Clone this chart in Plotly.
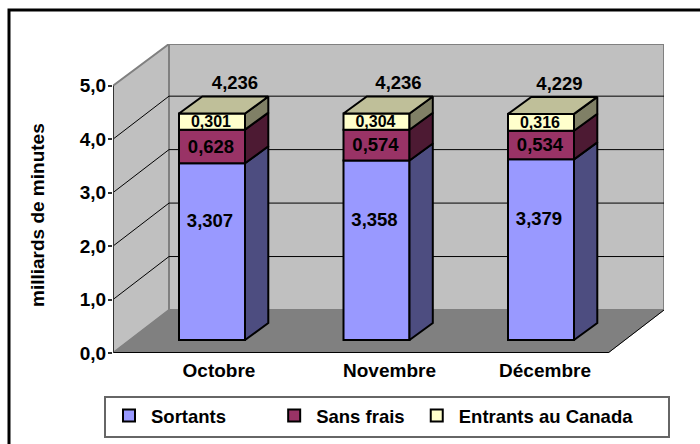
import plotly.graph_objects as go

months = ["Octobre", "Novembre", "Décembre"]
sortants = [3.307, 3.358, 3.379]
sans_frais = [0.628, 0.574, 0.534]
entrants = [0.301, 0.304, 0.316]
totals = [4.236, 4.236, 4.229]
y_ticks = [0, 1, 2, 3, 4, 5]

# --- layout constants (pixels of the 700x444 page) ---
W, H = 700, 444
L, R, T, B = 113, 664, 44, 353
X0_PX, X_UNIT = 212.0, 164.5
Y_TOP = 5.78
Y_UNIT = (B - T) / Y_TOP
xr = [(L - X0_PX) / X_UNIT, (R - X0_PX) / X_UNIT]
WALL_DX, WALL_DY = 56 / X_UNIT, 43 / Y_UNIT
BAR_BASE = 13 / Y_UNIT
BAR_W = 66 / X_UNIT
SIDE_DX, SIDE_DY = 23.3 / X_UNIT, 17 / Y_UNIT
TICK_POS = [(219 - X0_PX) / X_UNIT, (389.5 - X0_PX) / X_UNIT, (545 - X0_PX) / X_UNIT]
TOTAL_OFF = [23 / X_UNIT, 22 / X_UNIT, 18.5 / X_UNIT]

FONT = "Liberation Sans"
NB = "\u00a0"
series = [
    ("Sortants" + NB * 8, sortants, "#9999FF", "#4D4D80"),
    ("Sans frais" + NB, sans_frais, "#993366", "#4D1A33"),
    ("Entrants au Canada", entrants, "#FFFFCC", "#808066"),
]
LABEL_DX = [-2 / X_UNIT, -1 / X_UNIT, -1 / X_UNIT]
LABEL_DY = [29 / Y_UNIT, -1.5 / Y_UNIT, -1.5 / Y_UNIT]
TOP_FACE = "#BFBF99"

def fx(px):
    return (px - L) / (R - L)
def fy(py):
    return (B - py) / (B - T)

fig = go.Figure()
x_pos = list(range(len(months)))
bases = [BAR_BASE] * len(months)
for name, vals, col, side in series:
    fig.add_bar(x=x_pos, y=vals, base=list(bases), width=BAR_W, name=name,
                marker=dict(color=col, line=dict(color="black", width=2)))
    sx, sy = [], []
    for i, v in enumerate(vals):
        xr_edge = x_pos[i] + BAR_W / 2
        b, t = bases[i], bases[i] + v
        sx += [xr_edge, xr_edge + SIDE_DX, xr_edge + SIDE_DX, xr_edge, xr_edge, None]
        sy += [b, b + SIDE_DY, t + SIDE_DY, t, b, None]
    fig.add_scatter(x=sx, y=sy, mode="lines", fill="toself", fillcolor=side,
                    line=dict(color="black", width=2), showlegend=False, hoverinfo="skip")
    bases = [b + v for b, v in zip(bases, vals)]

# top faces
tx, ty = [], []
for i, top in enumerate(bases):
    xl, xe = x_pos[i] - BAR_W / 2, x_pos[i] + BAR_W / 2
    tx += [xl, xe, xe + SIDE_DX, xl + SIDE_DX, xl, None]
    ty += [top, top, top + SIDE_DY, top + SIDE_DY, top, None]
fig.add_scatter(x=tx, y=ty, mode="lines", fill="toself", fillcolor=TOP_FACE,
                line=dict(color="black", width=2), showlegend=False, hoverinfo="skip")

# data labels
def fmt(v):
    return f"{v:.3f}".replace(".", ",")

lab_font = dict(family=FONT, size=18.5, color="black")
small_font = dict(family=FONT, size=16, color="black")
b = [BAR_BASE] * len(months)
for (name, vals, col, side), f, dx, dy in zip(series, [lab_font, lab_font, small_font], LABEL_DX, LABEL_DY):
    fig.add_scatter(x=[p + dx for p in x_pos], y=[bi + v / 2 + dy for bi, v in zip(b, vals)], mode="text",
                    text=[f"<b>{fmt(v)}</b>" for v in vals], textfont=f,
                    showlegend=False, hoverinfo="skip")
    b = [bi + v for bi, v in zip(b, vals)]
fig.add_scatter(x=[p + o for p, o in zip(x_pos, TOTAL_OFF)],
                y=[bi + 29 / Y_UNIT for bi in b], mode="text",
                text=[f"<b>{fmt(v)}</b>" for v in totals], textfont=lab_font,
                showlegend=False, hoverinfo="skip")

# walls and floor
GREY = "#808080"
WALL = "#C0C0C0"
left_f, left_b = xr[0], xr[0] + WALL_DX
right_b = xr[1]
right_f = xr[1] - WALL_DX
shapes = [
    dict(type="rect", x0=left_b, x1=right_b, y0=WALL_DY, y1=Y_TOP, xref="x", yref="y",
         fillcolor=WALL, line=dict(color=GREY, width=2), layer="below"),
    dict(type="path", path=f"M{left_f},0 L{left_f},5 L{left_b},{Y_TOP} L{left_b},{WALL_DY} Z",
         xref="x", yref="y", fillcolor=WALL, line=dict(color=GREY, width=2), layer="below"),
    dict(type="path", path=f"M{left_f},0 L{left_b},{WALL_DY} L{right_b},{WALL_DY} L{right_f},0 Z",
         xref="x", yref="y", fillcolor=GREY, line=dict(color=GREY, width=1), layer="below"),
]
for k in y_ticks[1:-1]:
    shapes.append(dict(type="line", x0=left_b, x1=right_b, y0=k + WALL_DY, y1=k + WALL_DY,
                       xref="x", yref="y", line=dict(color="black", width=1), layer="below"))
    shapes.append(dict(type="line", x0=left_f, x1=left_b, y0=k, y1=k + WALL_DY,
                       xref="x", yref="y", line=dict(color="black", width=1), layer="below"))
shapes += [
    dict(type="line", x0=right_f, x1=right_b, y0=0, y1=WALL_DY, xref="x", yref="y",
         line=dict(color="black", width=1), layer="below"),
    dict(type="line", x0=left_f, x1=right_f, y0=0, y1=0, xref="x", yref="y",
         line=dict(color="black", width=2), layer="below"),
    dict(type="line", x0=left_f, x1=left_f, y0=0, y1=5, xref="x", yref="y",
         line=dict(color="#333333", width=2), layer="below"),
]
# chart frame (runs off the right and bottom of the page)
shapes.append(dict(type="rect", x0=fx(9), x1=fx(720), y0=fy(10), y1=fy(470),
                   xref="paper", yref="paper", line=dict(color="black", width=3), layer="below"))
# legend box
shapes.append(dict(type="rect", x0=fx(105), x1=fx(669), y0=fy(397), y1=fy(437),
                   xref="paper", yref="paper", fillcolor="white",
                   line=dict(color="#666666", width=2), layer="below"))

fig.update_layout(
    width=W, height=H, autosize=False,
    margin=dict(l=L, r=W - R, t=T, b=H - B, autoexpand=False),
    paper_bgcolor="white", plot_bgcolor="rgba(0,0,0,0)",
    barmode="overlay", separators=", ",
    font=dict(family=FONT, color="black"),
    shapes=shapes,
    annotations=[dict(text="<b>milliards de minutes</b>", xref="paper", yref="paper",
                      x=fx(37), y=fy(215), xanchor="center", yanchor="middle", textangle=-90,
                      showarrow=False, font=dict(family=FONT, size=19))],
    xaxis=dict(range=xr, tickmode="array", tickvals=TICK_POS, ticktext=[f"<b>{m}</b>" for m in months],
               showgrid=False, zeroline=False, showline=False, ticks="", ticklabelstandoff=4,
               tickfont=dict(family=FONT, size=19), automargin=False),
    yaxis=dict(range=[0, Y_TOP], tickmode="array", tickvals=y_ticks,
               ticktext=[f"<b>{v:.1f}</b>".replace(".", ",") for v in y_ticks],
               showgrid=False, zeroline=False, showline=False, ticks="outside", ticklen=4, tickwidth=2,
               ticklabelstandoff=-2, automargin=False,
               tickcolor="#333333", tickfont=dict(family=FONT, size=19)),
    legend=dict(orientation="h", x=107 / W, y=1 - 397 / H, xref="container", yref="container",
                xanchor="left", yanchor="top", itemwidth=34,
                bgcolor="rgba(0,0,0,0)", borderwidth=0,
                font=dict(family=FONT, size=18.5, weight="bold"), itemclick=False, itemdoubleclick=False),
)
fig.write_html("out.html", config={"displayModeBar": False},
               post_script="document.body.style.margin='0';document.documentElement.style.overflow='hidden';")
